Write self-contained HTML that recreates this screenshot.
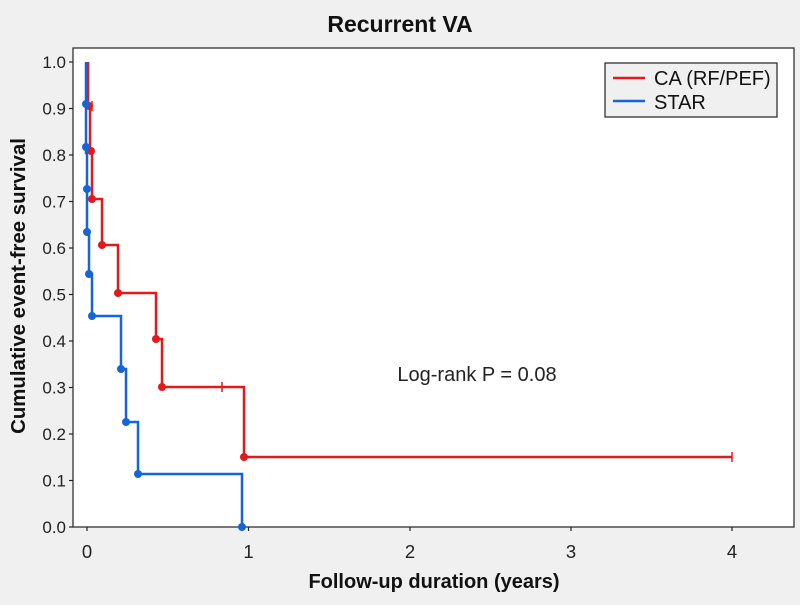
<!DOCTYPE html>
<html><head><style>body{margin:0;background:#f0f0f0}</style></head><body>
<svg width="800" height="600" xmlns="http://www.w3.org/2000/svg" font-family="Liberation Sans, Arial, sans-serif">
<rect width="800" height="600" fill="#f0f0f0"/>
<rect x="73" y="48" width="721" height="479" fill="#fff" stroke="#222" stroke-width="1.2"/>
<text x="400" y="32" text-anchor="middle" font-size="23" font-weight="bold" fill="#111">Recurrent VA</text>
<g stroke="#222" stroke-width="1.2">
<line x1="69" y1="62" x2="73" y2="62"/><line x1="69" y1="108.5" x2="73" y2="108.5"/><line x1="69" y1="155" x2="73" y2="155"/><line x1="69" y1="201.5" x2="73" y2="201.5"/><line x1="69" y1="248" x2="73" y2="248"/><line x1="69" y1="294.5" x2="73" y2="294.5"/><line x1="69" y1="341" x2="73" y2="341"/><line x1="69" y1="387.5" x2="73" y2="387.5"/><line x1="69" y1="434" x2="73" y2="434"/><line x1="69" y1="480.5" x2="73" y2="480.5"/><line x1="69" y1="527" x2="73" y2="527"/>
<line x1="87" y1="527" x2="87" y2="531"/><line x1="248.5" y1="527" x2="248.5" y2="531"/><line x1="410" y1="527" x2="410" y2="531"/><line x1="571" y1="527" x2="571" y2="531"/><line x1="732" y1="527" x2="732" y2="531"/>
</g>
<g font-size="17" fill="#222" text-anchor="end">
<text x="66" y="68">1.0</text><text x="66" y="114.5">0.9</text><text x="66" y="161">0.8</text><text x="66" y="207.5">0.7</text><text x="66" y="254">0.6</text><text x="66" y="300.5">0.5</text><text x="66" y="347">0.4</text><text x="66" y="393.5">0.3</text><text x="66" y="440">0.2</text><text x="66" y="486.5">0.1</text><text x="66" y="533">0.0</text>
</g>
<g font-size="18.5" fill="#222" text-anchor="middle">
<text x="87" y="558">0</text><text x="248.5" y="558">1</text><text x="410" y="558">2</text><text x="571" y="558">3</text><text x="732" y="558">4</text>
</g>
<text x="434" y="588" text-anchor="middle" font-size="20" font-weight="bold" fill="#111">Follow-up duration (years)</text>
<text transform="translate(25,286) rotate(-90)" text-anchor="middle" font-size="20.4" font-weight="bold" fill="#111">Cumulative event-free survival</text>
<text x="477" y="381" text-anchor="middle" font-size="20" fill="#222">Log-rank P = 0.08</text>
<polyline fill="none" stroke="#e31a1c" stroke-width="2.5" points="88,62 88,106 90,106 90,151 92,151 92,199 102,199 102,245 118,245 118,293 156,293 156,339 162,339 162,387 244,387 244,457 732,457"/>
<g fill="#e31a1c"><circle cx="89" cy="106" r="4"/><circle cx="91" cy="151" r="4"/><circle cx="92" cy="199" r="4"/><circle cx="102" cy="245" r="4"/><circle cx="118" cy="293" r="4"/><circle cx="156" cy="339" r="4"/><circle cx="162" cy="387" r="4"/><circle cx="244" cy="457" r="4"/></g>
<g stroke="#e31a1c" stroke-width="1.5"><line x1="222" y1="382" x2="222" y2="392"/><line x1="732" y1="452" x2="732" y2="462"/><line x1="92" y1="101" x2="92" y2="111"/></g>
<polyline fill="none" stroke="#1565d8" stroke-width="2.5" points="86,62 86,153 87,153 87,232 89,232 89,274 92,274 92,316 121,316 121,369 126,369 126,422 138,422 138,474 242,474 242,527"/>
<g fill="#1565d8"><circle cx="86" cy="104" r="4"/><circle cx="86" cy="147" r="4"/><circle cx="87" cy="189" r="4"/><circle cx="87" cy="232" r="4"/><circle cx="89" cy="274" r="4"/><circle cx="92" cy="316" r="4"/><circle cx="121" cy="369" r="4"/><circle cx="126" cy="422" r="4"/><circle cx="138" cy="474" r="4"/><circle cx="242" cy="527" r="4"/></g>
<rect x="605" y="63" width="172" height="54" fill="#f0f0f0" stroke="#222" stroke-width="1.2"/>
<line x1="613" y1="78" x2="645" y2="78" stroke="#e31a1c" stroke-width="2.5"/>
<line x1="613" y1="101" x2="645" y2="101" stroke="#1565d8" stroke-width="2.5"/>
<text x="654" y="85" font-size="20" fill="#111">CA (RF/PEF)</text>
<text x="654" y="109" font-size="20" fill="#111">STAR</text>
</svg>
</body></html>
